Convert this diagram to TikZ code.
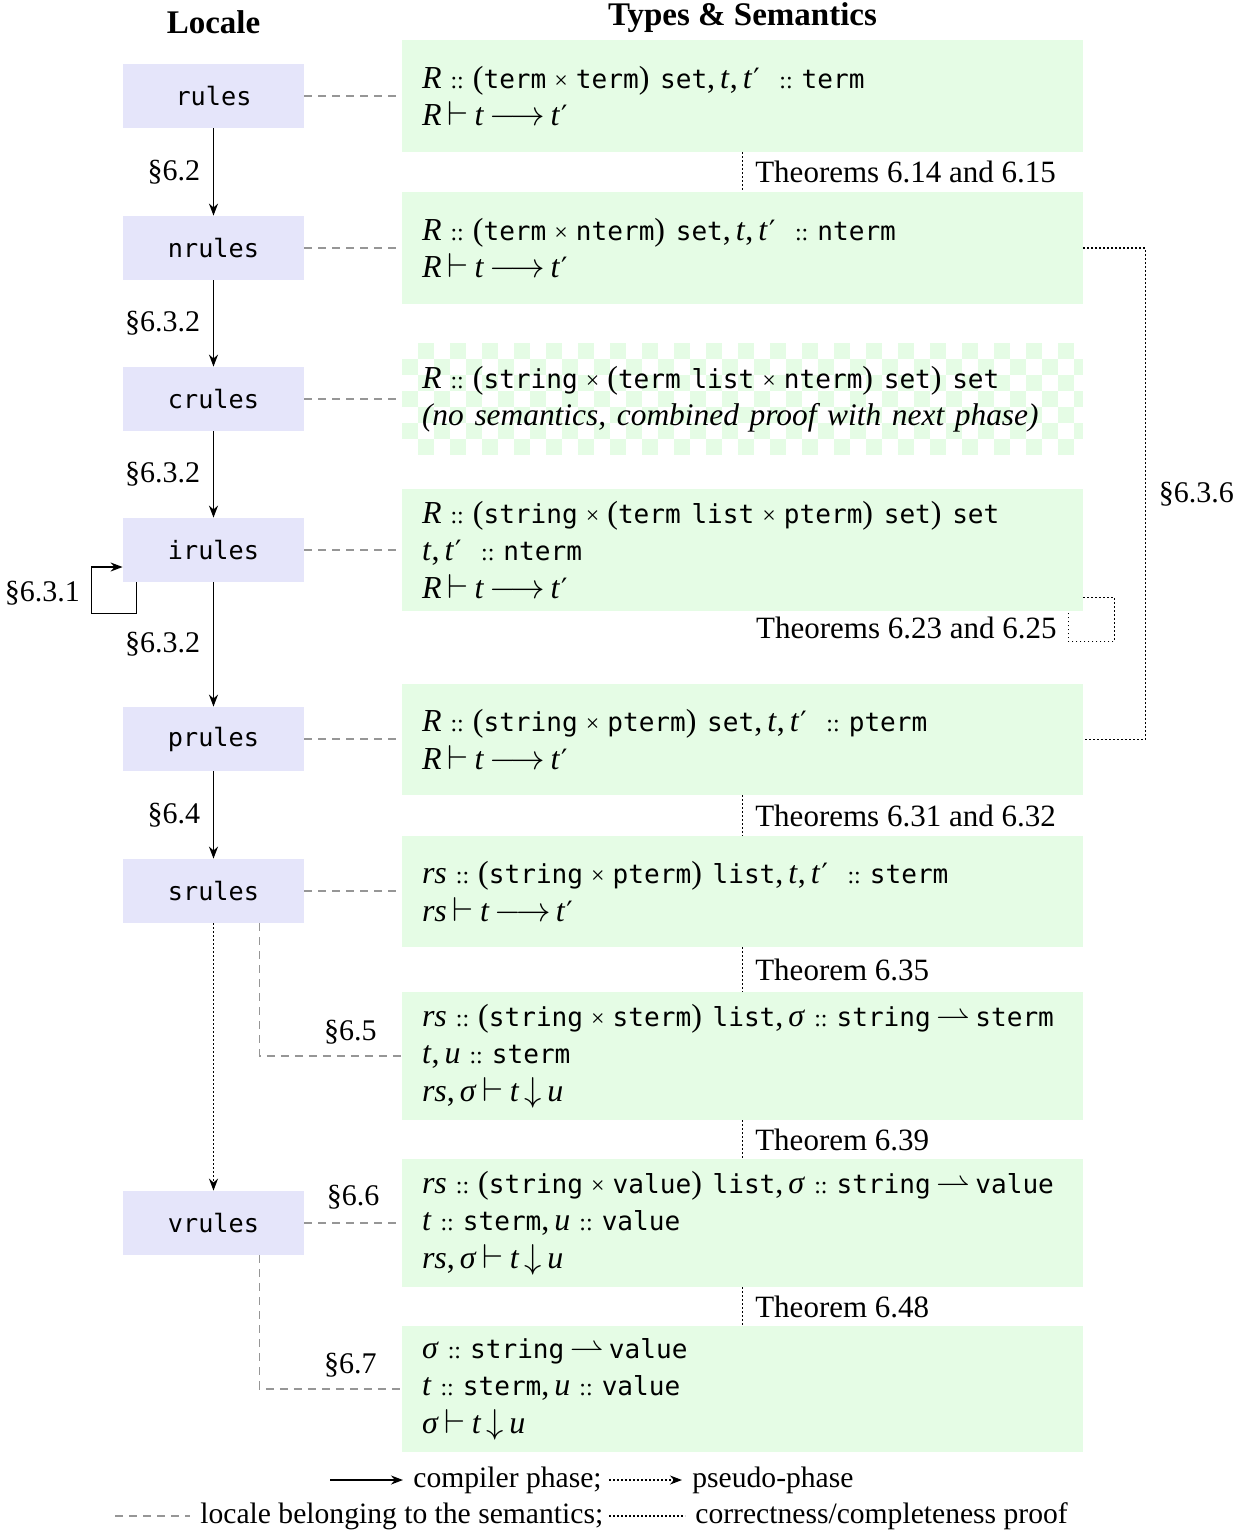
\documentclass[tikz,border=0pt]{standalone}
\usepackage{fontspec}
\setmainfont{Liberation Serif}
\newfontfamily\mono{DejaVu Sans Mono}[Scale=0.75]
\newfontfamily\djv{DejaVu Sans}
\usetikzlibrary{arrows.meta,calc}
\definecolor{loc}{RGB}{229,229,250}
\definecolor{sem}{RGB}{229,252,229}
\definecolor{dashgray}{RGB}{150,150,150}
\newcommand\hc{\kern4.5pt{\fontsize{12}{12}\selectfont ::}\kern4.5pt}
\newcommand\tx{\kern4pt{\fontsize{12}{12}\selectfont ×}\kern4pt}
\newcommand\tm[1]{{\fontsize{17.4}{18.75}\mono #1}}
\newcommand\vi[1]{\textit{#1}}
\newcommand\tp{\vi{t}\kern0.5pt{\djv\fontsize{14}{18.75}\selectfont ′}}
\newcommand\cm{,\kern2.5pt}
\newcommand\tu{\kern3pt$\vdash$\kern3pt}
\begin{document}
\begin{tikzpicture}[x=0.5pt,y=-0.5pt,
  locnode/.style={fill=loc, minimum width=90.5pt, minimum height=32pt, inner sep=0pt,
    font=\fontsize{16.8}{20}\selectfont\mono},
  semnode/.style={fill=sem, minimum width=340.5pt, text width=320.5pt, align=left,
    inner xsep=10pt, inner ysep=0pt, font=\fontsize{16}{18.75}\selectfont},
  phase/.style={-{Stealth[length=6pt,width=4.5pt]}, line width=0.8pt},
  pseudo/.style={phase, dash pattern=on 0.8pt off 1.2pt},
  proof/.style={line width=0.8pt, dash pattern=on 0.8pt off 1.2pt},
  semline/.style={draw=dashgray, line width=0.7pt, dash pattern=on 4pt off 3pt},
  lbl/.style={font=\fontsize{15}{18}\selectfont},
  thm/.style={font=\fontsize{15.5}{18}\selectfont, inner sep=0pt},
  lg/.style={font=\fontsize{14.8}{18}\selectfont, anchor=west, inner xsep=5pt, inner ysep=0pt},
  ttl/.style={font=\fontsize{16.5}{20}\selectfont\bfseries}
]
\useasboundingbox (0,0) rectangle (1240,1532);

% titles
\node[ttl] (tl) at (213.5,22) {Locale};
\node[ttl] (tr) at (742.5,18) {Types \& Semantics};

% locale nodes
\node[locnode] (n1) at (213.5,96) {rules};
\node[locnode] (n2) at (213.5,248) {nrules};
\node[locnode] (n3) at (213.5,399) {crules};
\node[locnode] (n4) at (213.5,550) {irules};
\node[locnode] (n5) at (213.5,739) {prules};
\node[locnode] (n6) at (213.5,891) {srules};
\node[locnode] (n7) at (213.5,1223) {vrules};

% checkerboard background of b3
\begin{scope}
  \clip (402,343) rectangle (1083,455);
  \fill[sem] (402,343) rectangle (1083,455);
  \foreach \i in {0,...,42} {
    \foreach \j in {0,...,6} {
      \pgfmathtruncatemacro\kk{mod(\i+\j,2)}
      \ifnum\kk=0
        \fill[white] (402+\i*16,343+\j*16) rectangle ++(16,16);
      \fi
    }
  }
\end{scope}

% semantics boxes
\node[semnode, minimum height=56pt] (b1) at (742.5,96)
  {\vi{R}\hc(\tm{term}\tx\tm{term})\ \tm{set}\cm\vi{t}\cm\tp\ \hc\tm{term}\\
   \vi{R}\tu\vi{t}\,$\longrightarrow$\,\tp};
\node[semnode, minimum height=56pt] (b2) at (742.5,248)
  {\vi{R}\hc(\tm{term}\tx\tm{nterm})\ \tm{set}\cm\vi{t}\cm\tp\ \hc\tm{nterm}\\
   \vi{R}\tu\vi{t}\,$\longrightarrow$\,\tp};
\node[semnode, fill=none, minimum height=56pt] (b3) at (742.5,399)
  {\vi{R}\hc(\tm{string}\tx(\tm{term}\ \tm{list}\tx\tm{nterm})\ \tm{set})\ \tm{set}\\
   {\fontsize{15.7}{18.75}\selectfont\textit{(no semantics, combined proof with next phase)}}};
\node[semnode, minimum height=61pt] (b4) at (742.5,550)
  {\vi{R}\hc(\tm{string}\tx(\tm{term}\ \tm{list}\tx\tm{pterm})\ \tm{set})\ \tm{set}\\
   \vi{t}\cm\tp\ \hc\tm{nterm}\\
   \vi{R}\tu\vi{t}\,$\longrightarrow$\,\tp};
\node[semnode, minimum height=55.5pt] (b5) at (742.5,739.5)
  {\vi{R}\hc(\tm{string}\tx\tm{pterm})\ \tm{set}\cm\vi{t}\cm\tp\ \hc\tm{pterm}\\
   \vi{R}\tu\vi{t}\,$\longrightarrow$\,\tp};
\node[semnode, minimum height=55.5pt] (b6) at (742.5,891.5)
  {\vi{rs}\hc(\tm{string}\tx\tm{pterm})\ \tm{list}\cm\vi{t}\cm\tp\ \hc\tm{sterm}\\
   \vi{rs}\tu\vi{t}\,$\longrightarrow$\,\tp};
\node[semnode, minimum height=64pt] (b7) at (742.5,1056)
  {\vi{rs}\hc(\tm{string}\tx\tm{sterm})\ \tm{list}\cm\vi{σ}\hc\tm{string}\,$\rightharpoonup$\,\tm{sterm}\\
   \vi{t}\cm\vi{u}\hc\tm{sterm}\\
   \vi{rs}\cm\vi{σ}\tu\vi{t}\,$\Big\downarrow$\,\vi{u}};
\node[semnode, minimum height=64pt] (b8) at (742.5,1223)
  {\vi{rs}\hc(\tm{string}\tx\tm{value})\ \tm{list}\cm\vi{σ}\hc\tm{string}\,$\rightharpoonup$\,\tm{value}\\
   \vi{t}\hc\tm{sterm}\cm\vi{u}\hc\tm{value}\\
   \vi{rs}\cm\vi{σ}\tu\vi{t}\,$\Big\downarrow$\,\vi{u}};
\node[semnode, minimum height=63pt] (b9) at (742.5,1389)
  {\vi{σ}\hc\tm{string}\,$\rightharpoonup$\,\tm{value}\\
   \vi{t}\hc\tm{sterm}\cm\vi{u}\hc\tm{value}\\
   \vi{σ}\tu\vi{t}\,$\Big\downarrow$\,\vi{u}};

% compiler phases
\draw[phase] (n1) -- (n2) node[lbl, midway, left=3pt] (s1) {§6.2};
\draw[phase] (n2) -- (n3) node[lbl, midway, left=3pt] (s2) {§6.3.2};
\draw[phase] (n3) -- (n4) node[lbl, midway, left=3pt] (s3) {§6.3.2};
\draw[phase] (n4) -- (n5) node[lbl, midway, left=3pt] (s4) {§6.3.2};
\draw[phase] (n5) -- (n6) node[lbl, midway, left=3pt] (s5) {§6.4};
\draw[pseudo] (n6) -- (n7);
% self loop on irules
\draw[phase] ($(n4.south west)+(14,0)$) -- ++(0,31) -- ++(-45,0) |- ($(n4.west)+(0,17)$);
\node[lbl, anchor=east] (s6) at (87,593) {§6.3.1};

% locale to semantics
\draw[semline] (n1) -- (b1);
\draw[semline] (n2) -- (b2);
\draw[semline] (n3) -- (b3);
\draw[semline] (n4) -- (b4);
\draw[semline] (n5.east) -- (n5.east -| b5.west);
\draw[semline] (n6.east) -- (n6.east -| b6.west);
\draw[semline] ($(n6.south east)+(-45,0)$) |- (b7.west) node[lbl, pos=0.82, above=2pt] (s7) {§6.5};
\draw[semline] (n7) -- (b8) node[lbl, midway, above=3pt] (s8) {§6.6};
\draw[semline] ($(n7.south east)+(-45,0)$) |- (b9.west) node[lbl, pos=0.82, above=2pt] (s9) {§6.7};

% proofs
\draw[proof] (b1.south) -- (b2.north) node[thm, midway, anchor=west, xshift=6pt] (t1) {Theorems 6.14 and 6.15};
\draw[proof] (b5.south) -- (b6.north) node[thm, midway, anchor=west, xshift=6pt] (t3) {Theorems 6.31 and 6.32};
\draw[proof] (b6.south) -- (b7.north) node[thm, midway, anchor=west, xshift=6pt] (t4) {Theorem 6.35};
\draw[proof] (b7.south) -- (b8.north) node[thm, midway, anchor=west, xshift=6pt] (t5) {Theorem 6.39};
\draw[proof] (b8.south) -- (b9.north) node[thm, midway, anchor=west, xshift=6pt] (t6) {Theorem 6.48};
\draw[proof] ($(b4.south east)+(0,-14)$) -| ($(b4.south east)+(31,30)$) -| ($(b4.south east)+(-15,0)$);
\node[thm, anchor=east] (t2) at (1057,628) {Theorems 6.23 and 6.25};
\draw[proof] (b2.east) -- ++(62,0) |- (b5.east) node[lbl, pos=0.25, right=3pt] (s10) {§6.3.6};

% legend
\coordinate (la1) at (330,1480);
\node[lg] (lg1) at (403,1480) {compiler phase;};
\draw[phase] (la1) -- (lg1.west);
\coordinate (la2) at (609,1480);
\node[lg] (lg2) at (682,1480) {pseudo-phase};
\draw[pseudo, line width=0.6pt] (la2) -- (lg2.west);
\coordinate (la3) at (115,1516);
\node[lg] (lg3) at (190,1516) {locale belonging to the semantics;};
\draw[semline] (la3) -- (lg3.west);
\coordinate (la4) at (609,1516);
\node[lg] (lg4) at (685,1516) {correctness/completeness proof};
\draw[proof, line width=0.6pt] (la4) -- (lg4.west);
\end{tikzpicture}
\end{document}
